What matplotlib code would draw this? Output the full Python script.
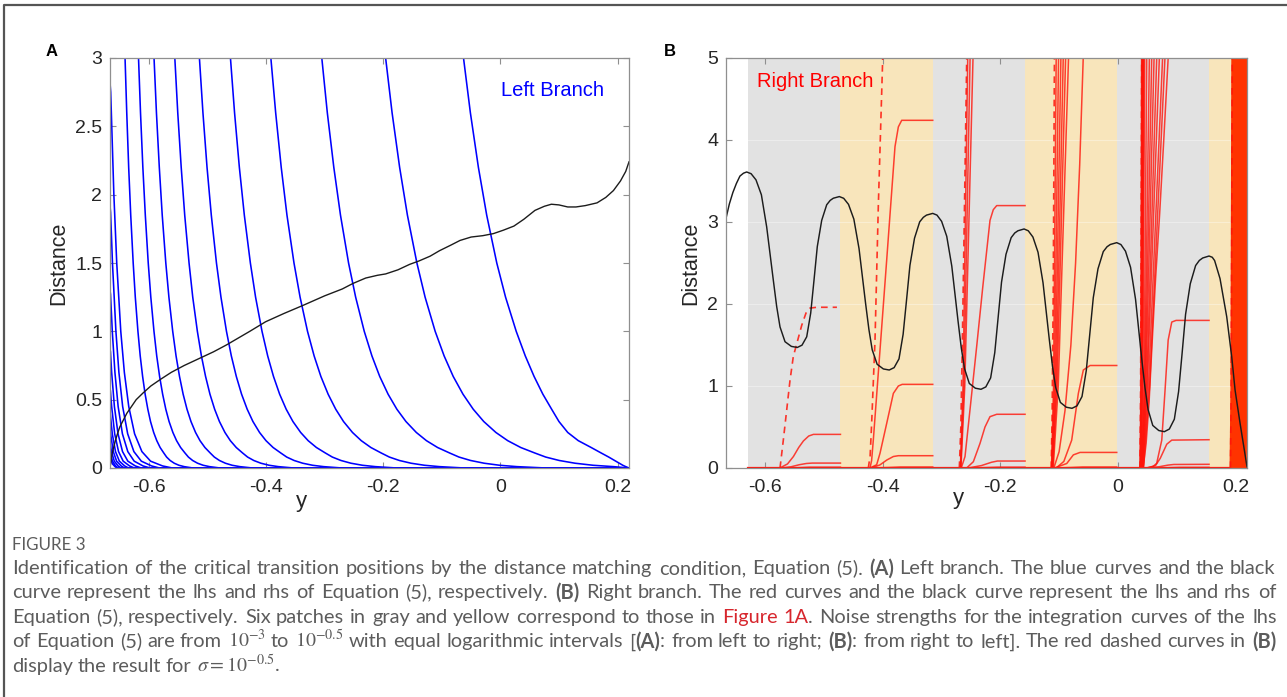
import re
import matplotlib
matplotlib.use("Agg")
import matplotlib.pyplot as plt
from matplotlib.lines import Line2D

plt.rcParams["font.family"] = ["Liberation Sans", "DejaVu Sans"]
plt.rcParams["axes.unicode_minus"] = False
plt.rcParams["mathtext.fontset"] = "stix"

W, H = 1287, 697

# ---- shared axis values ----
X_LIM = (-0.6667, 0.2196)
X_TICKS = [-0.6, -0.4, -0.2, 0, 0.2]
X_TICK_LABELS = ["-0.6", "-0.4", "-0.2", "0", "0.2"]
A_Y_TICKS = [0, 0.5, 1, 1.5, 2, 2.5, 3]
A_Y_TICK_LABELS = ["0", "0.5", "1", "1.5", "2", "2.5", "3"]
B_Y_TICKS = [0, 1, 2, 3, 4, 5]
B_Y_TICK_LABELS = ["0", "1", "2", "3", "4", "5"]

# ---- panel A: blue curves that leave the top of the plot (x read at each level) ----
BLUE_LEVELS = [3.0, 2.6, 2.2, 1.85, 1.5, 1.25, 1.0, 0.82, 0.67, 0.54, 0.43, 0.34,
               0.26, 0.2, 0.15, 0.11, 0.08, 0.055, 0.035, 0.02, 0.01, 0.0]
BLUE_TOP_X = [
    [-0.063, -0.0513, -0.0376, -0.0234, -0.0062, 0.0088, 0.027, 0.0425, 0.0575, 0.0725, 0.0875,
     0.100, 0.115, 0.133, 0.155, 0.172, 0.185, 0.195, 0.203, 0.209, 0.214, 0.2196],
    [-0.196, -0.1850, -0.1721, -0.1588, -0.1426, -0.1286, -0.1114, -0.0961, -0.0806, -0.0639, -0.0464,
     -0.0284, -0.0077, 0.0125, 0.0347, 0.0586, 0.0774, 0.1005, 0.1274, 0.1582, 0.1929, 0.2196],
    [-0.305, -0.2956, -0.2845, -0.2731, -0.2593, -0.2472, -0.2325, -0.2194, -0.2061, -0.1918, -0.1768,
     -0.1613, -0.1436, -0.1263, -0.1073, -0.0868, -0.0707, -0.0509, -0.0278, -0.0014, 0.0283, 0.0778],
    [-0.392, -0.3838, -0.3743, -0.3645, -0.3525, -0.3421, -0.3294, -0.3181, -0.3066, -0.2942, -0.2812,
     -0.2679, -0.2526, -0.2376, -0.2212, -0.2036, -0.1896, -0.1725, -0.1526, -0.1298, -0.1041, -0.0614],
    [-0.461, -0.4540, -0.4458, -0.4373, -0.4270, -0.4181, -0.4071, -0.3974, -0.3875, -0.3770, -0.3658,
     -0.3543, -0.3411, -0.3283, -0.3142, -0.2990, -0.2870, -0.2723, -0.2552, -0.2356, -0.2135, -0.1768],
    [-0.514, -0.5080, -0.5010, -0.4937, -0.4849, -0.4772, -0.4678, -0.4595, -0.4510, -0.4420, -0.4324,
     -0.4226, -0.4113, -0.4003, -0.3882, -0.3751, -0.3649, -0.3523, -0.3376, -0.3208, -0.3019, -0.2704],
    [-0.556, -0.5510, -0.5451, -0.5391, -0.5317, -0.5254, -0.5175, -0.5106, -0.5035, -0.4960, -0.4880,
     -0.4798, -0.4704, -0.4612, -0.4511, -0.4403, -0.4317, -0.4212, -0.4090, -0.3950, -0.3792, -0.3530],
    [-0.5915, -0.5874, -0.5825, -0.5775, -0.5714, -0.5661, -0.5596, -0.5539, -0.5480, -0.5418, -0.5352,
     -0.5284, -0.5206, -0.5130, -0.5046, -0.4956, -0.4885, -0.4798, -0.4697, -0.4581, -0.4450, -0.4233],
    [-0.618, -0.6146, -0.6106, -0.6064, -0.6014, -0.5970, -0.5916, -0.5869, -0.5820, -0.5768, -0.5714,
     -0.5658, -0.5593, -0.5530, -0.5461, -0.5387, -0.5328, -0.5256, -0.5172, -0.5076, -0.4968, -0.4788],
    [-0.641, -0.6381, -0.6348, -0.6313, -0.6271, -0.6235, -0.6190, -0.6151, -0.6110, -0.6067, -0.6021,
     -0.5975, -0.5921, -0.5868, -0.5811, -0.5749, -0.5700, -0.5640, -0.5570, -0.5490, -0.5400, -0.5250],
]

# ---- panel A: blue curves that start at the left edge below 3 ----
BLUE_EDGE_X = [
    [-0.6667, -0.6655, -0.6601, -0.6552, -0.6483, -0.6422, -0.6347, -0.6247, -0.6122, -0.5974, -0.5769, -0.560],
    [-0.6667, -0.6657, -0.6625, -0.6566, -0.6515, -0.6451, -0.6365, -0.6259, -0.6132, -0.5957, -0.582],
    [-0.6667, -0.6658, -0.6628, -0.6583, -0.6528, -0.6455, -0.6363, -0.6254, -0.6103, -0.598],
    [-0.6667, -0.6659, -0.6639, -0.6592, -0.6530, -0.6453, -0.6362, -0.6235, -0.613],
    [-0.6667, -0.6660, -0.6639, -0.6587, -0.6521, -0.6442, -0.6333, -0.625],
    [-0.6667, -0.6661, -0.6628, -0.6573, -0.6507, -0.6417, -0.635],
    [-0.6667, -0.6662, -0.6611, -0.6554, -0.6476, -0.642],
    [-0.6667, -0.6663, -0.6642, -0.6594, -0.6528, -0.648],
    [-0.6667, -0.6663, -0.6625, -0.6571, -0.653],
    [-0.6667, -0.6663, -0.6625, -0.6581, -0.655],
]
BLUE_EDGE_D = [
    [2.82, 2.75, 2.0, 1.5, 1.0, 0.7, 0.45, 0.25, 0.12, 0.05, 0.015, 0.0],
    [1.92, 1.87, 1.5, 1.0, 0.7, 0.45, 0.25, 0.12, 0.05, 0.015, 0.0],
    [1.30, 1.27, 1.0, 0.7, 0.45, 0.25, 0.12, 0.05, 0.015, 0.0],
    [0.87, 0.85, 0.7, 0.45, 0.25, 0.12, 0.05, 0.015, 0.0],
    [0.58, 0.565, 0.45, 0.25, 0.12, 0.05, 0.015, 0.0],
    [0.40, 0.39, 0.25, 0.12, 0.05, 0.015, 0.0],
    [0.27, 0.263, 0.12, 0.05, 0.015, 0.0],
    [0.18, 0.175, 0.12, 0.05, 0.015, 0.0],
    [0.12, 0.117, 0.05, 0.015, 0.0],
    [0.08, 0.078, 0.03, 0.01, 0.0],
]

# ---- panel A: black curve (rhs) ----
BLACK_A_X = [-0.6667, -0.6650, -0.6635, -0.6605, -0.6575, -0.6540, -0.6500, -0.6440, -0.6380,
             -0.6300, -0.6220, -0.6100, -0.5970, -0.5800, -0.5620, -0.5400, -0.5150, -0.4900,
             -0.4680, -0.4480, -0.4280, -0.4010, -0.3700, -0.3370, -0.3000, -0.2700, -0.2520,
             -0.2300, -0.2100, -0.1960, -0.1750, -0.1550, -0.1390, -0.1200, -0.1040, -0.0850,
             -0.0690, -0.0500, -0.0300, -0.0120, 0.0050, 0.0230, 0.0400, 0.0590, 0.0750, 0.0870,
             0.1000, 0.1150, 0.1290, 0.1450, 0.1650, 0.1800, 0.1930, 0.2050, 0.2140, 0.2196]
BLACK_A_D = [0.0, 0.05, 0.10, 0.15, 0.20, 0.25, 0.30, 0.35, 0.40, 0.45, 0.50, 0.55, 0.60, 0.65,
             0.70, 0.75, 0.80, 0.85, 0.90, 0.95, 1.00, 1.07, 1.13, 1.19, 1.26, 1.31, 1.35, 1.39,
             1.41, 1.42, 1.45, 1.49, 1.515, 1.55, 1.59, 1.63, 1.665, 1.69, 1.70, 1.715, 1.74,
             1.77, 1.82, 1.885, 1.915, 1.93, 1.925, 1.91, 1.91, 1.92, 1.94, 1.98, 2.03, 2.10,
             2.17, 2.24]

# ---- panel B: patches ----
PATCH_EDGES = [-0.629, -0.472, -0.315, -0.158, -0.002, 0.155, 0.2196]
PATCH_COLORS = ["#e2e2e2", "#f8e5bb", "#e2e2e2", "#f8e5bb", "#e2e2e2", "#f8e5bb"]

# ---- panel B: black curve (rhs) ----
BLACK_B_X = [-0.6667, -0.661, -0.655, -0.649, -0.643, -0.637, -0.6315,
             -0.624, -0.6157, -0.6065, -0.5975, -0.5862, -0.5805, -0.5748, -0.5663, -0.5555, -0.5454,
             -0.5374, -0.5294, -0.5226, -0.5170, -0.5114, -0.5039, -0.4954, -0.4894, -0.4841, -0.4739,
             -0.4665, -0.4583, -0.4492, -0.4404, -0.4292, -0.4236, -0.418, -0.4096, -0.399, -0.389,
             -0.3807, -0.3724, -0.3654, -0.3596, -0.3538, -0.346, -0.3372, -0.331, -0.3256, -0.315,
             -0.3078, -0.2999, -0.2912, -0.2826, -0.2718, -0.2664, -0.2609, -0.2528, -0.2425, -0.2329,
             -0.2247, -0.2165, -0.2095, -0.2038, -0.198, -0.1904, -0.1816, -0.1755, -0.1701, -0.1596,
             -0.1525, -0.1446, -0.1359, -0.1274, -0.1167, -0.1113, -0.1059, -0.0979, -0.0877, -0.0781,
             -0.0696, -0.0611, -0.0538, -0.0479, -0.0419, -0.0339, -0.0249, -0.0185, -0.0129, -0.002,
             0.0051, 0.0129, 0.0215, 0.030, 0.0406, 0.046, 0.0513, 0.0593, 0.0695, 0.079,
             0.0875, 0.096, 0.1032, 0.1092, 0.1151, 0.1231, 0.1322, 0.1385, 0.1442, 0.155,
             0.1605, 0.1645, 0.1737, 0.1851, 0.1936, 0.1993, 0.2078, 0.2196]
BLACK_B_D = [3.045, 3.22, 3.36, 3.47, 3.56, 3.595, 3.61,
             3.589, 3.514, 3.332, 2.94, 2.29, 1.97, 1.72, 1.54, 1.483, 1.47,
             1.498, 1.60, 1.89, 2.29, 2.70, 3.02, 3.21, 3.264, 3.29, 3.31,
             3.289, 3.215, 3.035, 2.676, 2.005, 1.690, 1.442, 1.265, 1.208, 1.195,
             1.224, 1.331, 1.630, 2.047, 2.471, 2.803, 3.002, 3.057, 3.084, 3.105,
             3.084, 3.008, 2.826, 2.462, 1.782, 1.462, 1.211, 1.031, 0.973, 0.96,
             0.989, 1.099, 1.406, 1.832, 2.266, 2.606, 2.809, 2.866, 2.893, 2.915,
             2.893, 2.817, 2.631, 2.259, 1.566, 1.240, 0.984, 0.800, 0.741, 0.728,
             0.758, 0.871, 1.189, 1.629, 2.077, 2.429, 2.639, 2.698, 2.726, 2.748,
             2.725, 2.644, 2.448, 2.057, 1.326, 0.982, 0.713, 0.519, 0.457, 0.443,
             0.475, 0.595, 0.931, 1.398, 1.874, 2.247, 2.469, 2.531, 2.561, 2.585,
             2.57, 2.53, 2.31, 1.845, 1.357, 0.951, 0.545, 0.016]

# ---- panel B: red solid curves (lhs) ----
RED_SOLID_X = [
    [-0.575, -0.562, -0.552, -0.543, -0.535, -0.526, -0.518, -0.472],
    [-0.572, -0.556, -0.542, -0.530, -0.520, -0.472],
    [-0.566, -0.540, -0.525, -0.472],
    [-0.4218, -0.419, -0.4161, -0.4104, -0.4047, -0.3990, -0.3933, -0.3877, -0.3792, -0.3735, -0.3678, -0.315],
    [-0.4218, -0.4104, -0.4047, -0.3933, -0.382, -0.3735, -0.367, -0.315],
    [-0.420, -0.405, -0.393, -0.382, -0.3735, -0.315],
    [-0.420, -0.390, -0.370, -0.315],
    [-0.2665, -0.2601, -0.250, -0.240, -0.230, -0.2176, -0.212, -0.2062, -0.158],
    [-0.2573, -0.2459, -0.2346, -0.2261, -0.2176, -0.2062, -0.158],
    [-0.255, -0.232, -0.215, -0.205, -0.158],
    [-0.252, -0.225, -0.205, -0.158],
    [-0.109, -0.100, -0.090, -0.080, -0.072, -0.065, -0.059],
    [-0.105, -0.092, -0.0786, -0.0673, -0.0588, -0.0474, -0.002],
    [-0.108, -0.087, -0.0758, -0.0644, -0.002],
    [-0.105, -0.080, -0.060, -0.002],
    [0.043, 0.048, 0.053, 0.058, 0.064, 0.071, 0.078, 0.0855],
    [0.048, 0.060, 0.066, 0.0746, 0.0802, 0.0855, 0.0916, 0.099, 0.155],
    [0.050, 0.064, 0.072, 0.0831, 0.0916, 0.155],
    [0.050, 0.070, 0.085, 0.095, 0.155],
    [0.052, 0.085, 0.105, 0.155],
]
RED_SOLID_D = [
    [0, 0.05, 0.14, 0.25, 0.33, 0.39, 0.41, 0.41],
    [0, 0.015, 0.04, 0.055, 0.06, 0.06],
    [0, 0.005, 0.01, 0.01],
    [0, 0.09, 0.34, 0.89, 1.44, 1.99, 2.54, 3.09, 3.92, 4.16, 4.24, 4.24],
    [0, 0.04, 0.18, 0.545, 0.91, 1.0, 1.02, 1.02],
    [0, 0.037, 0.098, 0.14, 0.15, 0.15],
    [0, 0.006, 0.012, 0.012],
    [0, 0.14, 0.82, 1.5, 2.2, 3.02, 3.15, 3.2, 3.2],
    [0, 0.077, 0.30, 0.50, 0.626, 0.655, 0.655],
    [0, 0.03, 0.07, 0.085, 0.085],
    [0, 0.005, 0.01, 0.01],
    [0, 0.2, 0.7, 1.5, 2.5, 3.7, 5.0],
    [0, 0.08, 0.34, 0.91, 1.195, 1.25, 1.25],
    [0, 0.055, 0.16, 0.19, 0.19],
    [0, 0.006, 0.012, 0.012],
    [0, 0.3, 0.8, 1.5, 2.3, 3.1, 4.0, 5.0],
    [0, 0.02, 0.057, 0.34, 0.95, 1.56, 1.78, 1.80, 1.80],
    [0, 0.03, 0.118, 0.29, 0.34, 0.345],
    [0, 0.015, 0.035, 0.043, 0.045],
    [0, 0.004, 0.008, 0.008],
]

# ---- panel B: steep red curves that leave the top (x at distance 0, 1 and 5) ----
STEEP_LEVELS = [0.0, 1.0, 5.0]
STEEP_X0 = [-0.2680, -0.2675, -0.2670,
            -0.1130, -0.1125, -0.1120, -0.1115, -0.1110, -0.1100,
            0.0378, 0.0380, 0.0383, 0.0385, 0.0388, 0.0390, 0.0395, 0.0400, 0.0405,
            0.0410, 0.0415, 0.0420, 0.0425, 0.0430, 0.0435]
STEEP_X1 = [-0.2635, -0.2620, -0.2605,
            -0.1095, -0.1080, -0.1065, -0.1050, -0.1035, -0.1015,
            0.0390, 0.0395, 0.0400, 0.0405, 0.0410, 0.0415, 0.0425, 0.0445, 0.0455,
            0.0465, 0.0475, 0.0490, 0.0500, 0.0520, 0.0540]
STEEP_X5 = [-0.2555, -0.2515, -0.2465,
            -0.1050, -0.1010, -0.0970, -0.0930, -0.0890, -0.0840,
            0.0403, 0.0410, 0.0418, 0.0425, 0.0432, 0.0440, 0.0455, 0.0490, 0.0535,
            0.0575, 0.0615, 0.0660, 0.0705, 0.0760, 0.0800]

# dense bundle in the last (yellow) patch
BAND_X0 = [0.1925, 0.1945, 0.1965, 0.1985, 0.2005, 0.2025, 0.2045, 0.2065, 0.2085, 0.2105, 0.2125, 0.2145, 0.2165]
BAND_X1 = [0.1940, 0.1960, 0.1980, 0.2000, 0.2020, 0.2040, 0.2060, 0.2080, 0.2100, 0.2120, 0.2140, 0.2160, 0.2180]
BAND_X5 = [0.1955, 0.1975, 0.1995, 0.2015, 0.2035, 0.2055, 0.2075, 0.2095, 0.2115, 0.2135, 0.2155, 0.2175, 0.2195]

# ---- panel B: red dashed curves (sigma = 10^-0.5) ----
RED_DASH_X = [
    [-0.5748, -0.5692, -0.5634, -0.5578, -0.5522, -0.5454, -0.5379, -0.5306, -0.5238, -0.5124, -0.478],
    [-0.4246, -0.4215, -0.4189, -0.4132, -0.4076, -0.4001],
    [-0.2698, -0.2672, -0.2645, -0.2610, -0.2572],
    [-0.1135, -0.112, -0.110, -0.108],
    [0.0375, 0.0385, 0.0395, 0.0405],
    [0.1915, 0.1925, 0.1935, 0.1945],
]
RED_DASH_D = [
    [0, 0.34, 0.71, 1.07, 1.36, 1.54, 1.74, 1.89, 1.95, 1.96, 1.96],
    [0, 0.15, 0.55, 1.56, 3.19, 5.0],
    [0, 0.5, 1.6, 3.2, 5.0],
    [0, 0.6, 2.2, 5.0],
    [0, 0.8, 2.5, 5.0],
    [0, 0.8, 2.5, 5.0],
]

# ---- caption ----
CAPTION_TITLE = "FIGURE 3"
CAPTION_LINES = [
    "Identification of the critical transition positions by the distance matching condition, Equation (5). *(A)* Left branch. The blue curves and the black",
    "curve represent the lhs and rhs of Equation (5), respectively. *(B)* Right branch. The red curves and the black curve represent the lhs and rhs of",
    "Equation (5), respectively. Six patches in gray and yellow correspond to those in ~Figure~ ~1A~. Noise strengths for the integration curves of the lhs",
    "of Equation (5) are from $10^{-3}$ to $10^{-0.5}$ with equal logarithmic intervals [*(A)*: from left to right; *(B)*: from right to left]. The red dashed curves in *(B)*",
    r"display the result for $\sigma=10^{-0.5}$.",
]

AXIS_GREY = "#8f8f8f"
TEXT_DARK = "#262626"
RED = (1.0, 0.08, 0.04)
BLACK = "#1c1c1c"
CAP_GREY = "#5c5c5c"
CAP_RED = "#d7262d"
CAP_FONT = "Lato"

fig = plt.figure(figsize=(W / 100, H / 100), dpi=100)


def add_axes_px(left, top, right, bottom):
    return fig.add_axes([left / W, 1 - bottom / H, (right - left) / W, (bottom - top) / H])


def style_axes(ax, yticks, ylabels, ymax):
    ax.set_xlim(X_LIM)
    ax.set_ylim(0, ymax)
    ax.set_xticks(X_TICKS)
    ax.set_xticklabels(X_TICK_LABELS)
    ax.set_yticks(yticks)
    ax.set_yticklabels(ylabels)
    ax.tick_params(direction="in", length=4, width=0.8, color=AXIS_GREY,
                   labelsize=14, labelcolor=TEXT_DARK, top=True, right=True)
    ax.tick_params(axis="x", pad=8)
    ax.tick_params(axis="y", pad=5.5)
    for sp in ax.spines.values():
        sp.set_color(AXIS_GREY)
        sp.set_linewidth(0.9)
        sp.set_zorder(6)


def ftext(x, y, s, **kw):
    return fig.text(x / W, 1 - y / H, s, **kw)


axA = add_axes_px(110, 58, 629, 468)
axB = add_axes_px(726, 58, 1247, 468)
style_axes(axA, A_Y_TICKS, A_Y_TICK_LABELS, 3)
style_axes(axB, B_Y_TICKS, B_Y_TICK_LABELS, 5)

# panel A
for xs in BLUE_TOP_X:
    axA.plot(xs + [X_LIM[1]], BLUE_LEVELS + [0.0], color="blue", lw=1.15)
for xs, ds in zip(BLUE_EDGE_X, BLUE_EDGE_D):
    axA.plot(xs + [X_LIM[1]], ds + [0.0], color="blue", lw=1.15)
axA.plot(BLACK_A_X, BLACK_A_D, color=BLACK, lw=1.0, zorder=4)

# panel B
for lo, hi, c in zip(PATCH_EDGES[:-1], PATCH_EDGES[1:], PATCH_COLORS):
    axB.axvspan(lo, hi, color=c, lw=0, zorder=0)
for yv in B_Y_TICKS[1:-1]:
    axB.axhline(yv, color="white", lw=0.8, alpha=0.35, zorder=1)
axB.plot([PATCH_EDGES[0], PATCH_EDGES[-1]], [0, 0], color=RED, lw=1.6, zorder=2)
for xs, ds in zip(RED_SOLID_X, RED_SOLID_D):
    axB.plot(xs, ds, color=RED, lw=1.1, alpha=0.8, zorder=2)
for x0, x1, x5 in zip(STEEP_X0, STEEP_X1, STEEP_X5):
    axB.plot([x0, x1, x5], STEEP_LEVELS, color=RED, lw=1.1, alpha=0.8, zorder=2)
for x0, x1, x5 in zip(BAND_X0, BAND_X1, BAND_X5):
    axB.plot([x0, x1, x5], STEEP_LEVELS, color=(1.0, 0.2, 0.0), lw=2.2, zorder=2)
for xs, ds in zip(RED_DASH_X, RED_DASH_D):
    axB.plot(xs, ds, color=RED, lw=1.2, alpha=0.85, ls=(0, (4, 3)), zorder=3)
axB.plot(BLACK_B_X, BLACK_B_D, color=BLACK, lw=1.05, zorder=4)

# panel texts
ftext(501, 96, "Left Branch", color="blue", fontsize=14.5, ha="left", va="baseline")
ftext(757, 87, "Right Branch", color="red", fontsize=14.5, ha="left", va="baseline")
ftext(52, 51, "A", fontsize=12, fontweight="bold", ha="center", va="center")
ftext(670, 51, "B", fontsize=12, fontweight="bold", ha="center", va="center")
ftext(59, 263, "Distance", fontsize=15.5, rotation=90, ha="center", va="center", color=TEXT_DARK)
ftext(691, 263, "Distance", fontsize=15.5, rotation=90, ha="center", va="center", color=TEXT_DARK)
ftext(301, 507, "y", fontsize=16, ha="center", va="baseline", color=TEXT_DARK)
ftext(958, 504, "y", fontsize=16, ha="center", va="baseline", color=TEXT_DARK)

# outer frame of the figure panel
fig.add_artist(Line2D([4 / W, 4 / W, 1.0], [0.0, 1 - 5 / H, 1 - 5 / H],
                      transform=fig.transFigure, color="#555555", lw=1.6))

# caption, justified like the journal layout
renderer = fig.canvas.get_renderer()
CAP_LEFT, CAP_RIGHT = 12, 1276
CAP_BASELINES = [574.3, 598.3, 623.3, 647.3, 672.3]


def split_runs(word):
    runs = []
    for part in re.split(r"(\*[^*]+\*|~[^~]+~)", word):
        if not part:
            continue
        if part.startswith("*"):
            runs.append((part[1:-1], "bold"))
        elif part.startswith("~"):
            runs.append((part[1:-1], "red"))
        else:
            runs.append((part, "normal"))
    return runs


def make_run(text, style, size):
    t = fig.text(0, 0, text, fontsize=size, family=[CAP_FONT, "DejaVu Sans"],
                 color=CAP_RED if style == "red" else CAP_GREY,
                 fontweight="bold" if style == "bold" else "normal",
                 ha="left", va="baseline")
    return t, t.get_window_extent(renderer).width


def layout_words(line, size):
    words = []
    for w in line.split(" "):
        runs = [make_run(txt, st, size) for txt, st in split_runs(w)]
        words.append((runs, sum(r[1] for r in runs)))
    return words


def space_width(size):
    a = fig.text(0, 0, "a a", fontsize=size, family=CAP_FONT)
    b = fig.text(0, 0, "aa", fontsize=size, family=CAP_FONT)
    w = a.get_window_extent(renderer).width - b.get_window_extent(renderer).width
    a.remove()
    b.remove()
    return w


# pick the caption size so the fullest line fits the column with ordinary spacing
base_size = 13.0
sp = space_width(base_size)
widest = 0
for line in CAPTION_LINES[:-1]:
    words = layout_words(line, base_size)
    widest = max(widest, sum(w for _, w in words) + sp * (len(words) - 1))
    for runs, _ in words:
        for t, _ in runs:
            t.remove()
cap_size = base_size * 0.99 * (CAP_RIGHT - CAP_LEFT) / widest
sp = space_width(cap_size)

for i, (line, base) in enumerate(zip(CAPTION_LINES, CAP_BASELINES)):
    words = layout_words(line, cap_size)
    total = sum(w for _, w in words)
    if i < len(CAPTION_LINES) - 1:
        gap = (CAP_RIGHT - CAP_LEFT - total) / (len(words) - 1)
    else:
        gap = sp
    x = CAP_LEFT
    for runs, wsum in words:
        for t, w in runs:
            t.set_position((round(x) / W, 1 - base / H))
            x += w
        x += gap

ftext(CAP_LEFT, 550.3, CAPTION_TITLE, fontsize=cap_size * 0.85, family=[CAP_FONT, "DejaVu Sans"],
      color=CAP_GREY, ha="left", va="baseline")

fig.savefig("out.png", dpi=100)
